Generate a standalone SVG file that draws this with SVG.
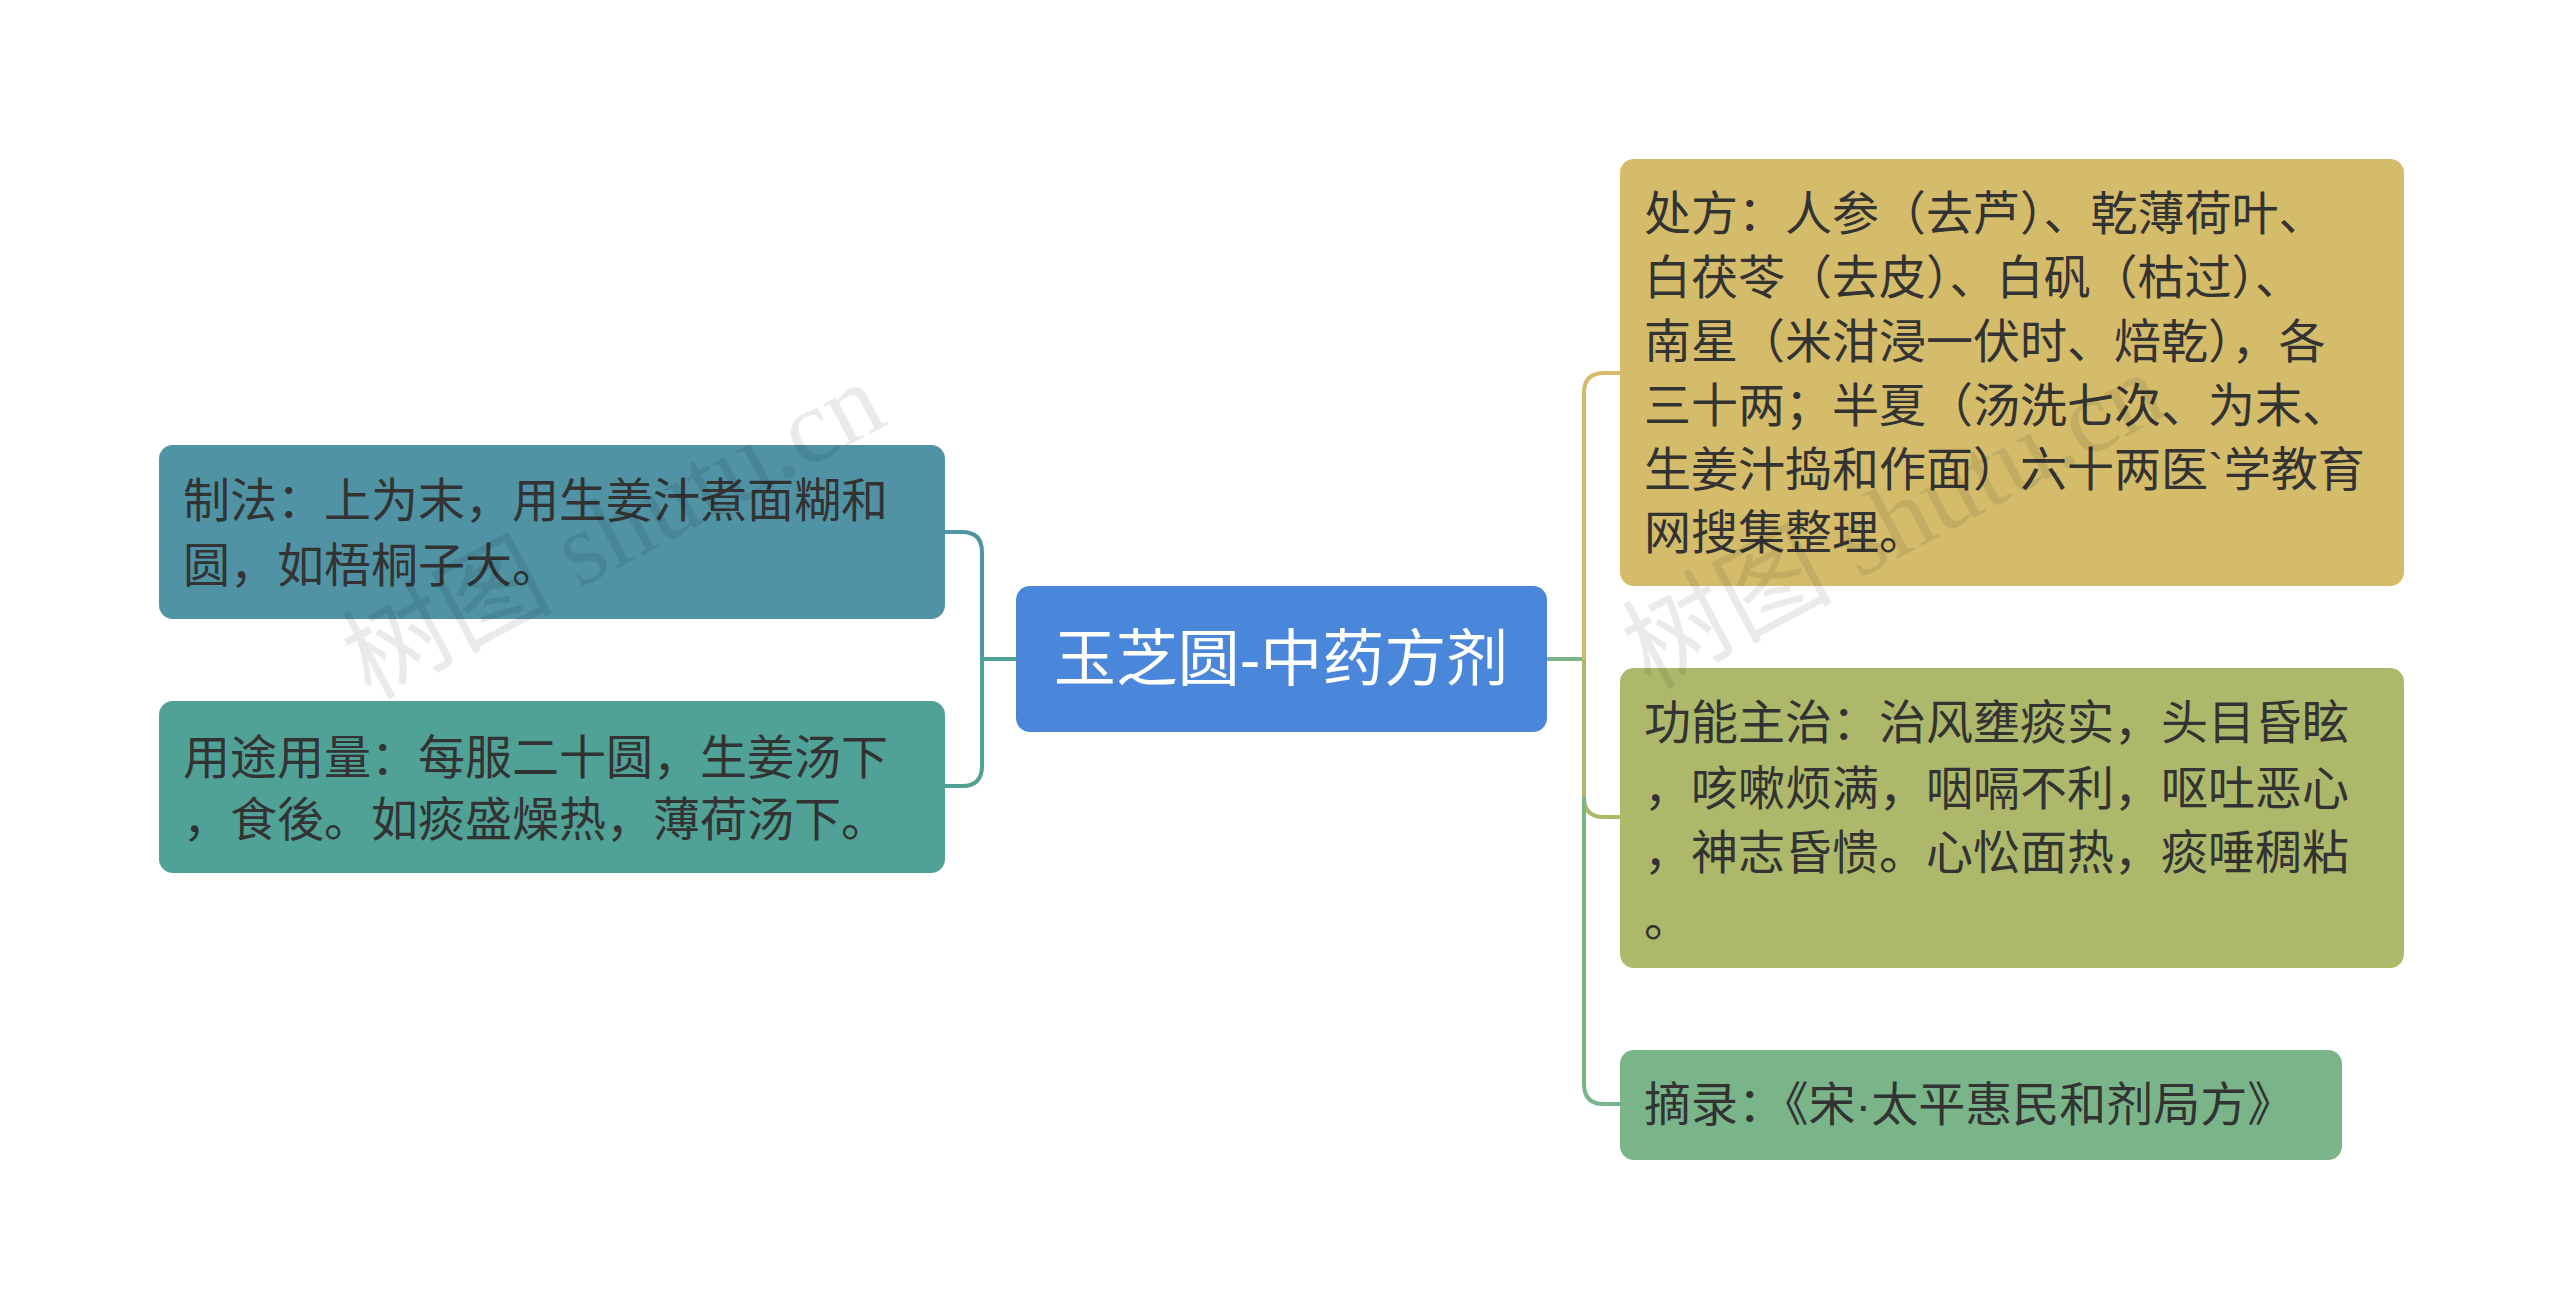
<svg xmlns="http://www.w3.org/2000/svg" width="2560" height="1314" viewBox="0 0 2560 1314">
<style>
.t{font-family:"Liberation Sans","Noto Sans CJK SC",sans-serif;font-size:47px;fill:#333}
.c{font-family:"Liberation Sans","Noto Sans CJK SC",sans-serif;font-size:62px;fill:#fff}
.w{font-family:"Liberation Serif","Noto Sans CJK SC",serif;font-size:105px;fill:#000;opacity:0.08}
.e{fill:none;stroke-width:4}
</style>
<rect width="2560" height="1314" fill="#fff"/>
<g id="connectors">
<path class="e" stroke="#4f93a5" d="M1016 659 H982 V552 Q982 532 962 532 H945"/>
<path class="e" stroke="#4fa295" d="M1016 659 H982 V766 Q982 786 962 786 H945"/>
<path class="e" stroke="#7ab58a" d="M1547 659 H1584"/>
<path class="e" stroke="#d4bc6a" d="M1584 659 V393 Q1584 373 1604 373 H1620"/>
<path class="e" stroke="#adb86a" d="M1584 659 V797 Q1584 817 1604 817 H1620"/>
<path class="e" stroke="#7ab58a" d="M1584 797 V1084 Q1584 1104 1604 1104 H1620"/>
</g>
<g id="center"><rect x="1016" y="586" width="531" height="146" rx="14" fill="#4a86d9"/><text class="c" x="1281" y="681" text-anchor="middle">玉芝圆-中药方剂</text></g>
<g id="l1"><rect x="159" y="445" width="786" height="174" rx="14" fill="#4f93a5"/><text class="t" x="183" y="517">制法：上为末，用生姜汁煮面糊和</text><text class="t" x="183" y="582">圆，如梧桐子大。</text></g>
<g id="l2"><rect x="159" y="701" width="786" height="172" rx="14" fill="#4fa295"/><text class="t" x="183" y="774">用途用量：每服二十圆，生姜汤下</text><text class="t" x="183" y="836">，食後。如痰盛燥热，薄荷汤下。</text></g>
<g id="r1"><rect x="1620" y="159" width="784" height="427" rx="14" fill="#d4bc6a"/>
<text class="t" x="1644" y="230">处方：人参（去芦）、乾薄荷叶、</text>
<text class="t" x="1644" y="294">白茯苓（去皮）、白矾（枯过）、</text>
<text class="t" x="1644" y="358">南星（米泔浸一伏时、焙乾），各</text>
<text class="t" x="1644" y="422">三十两；半夏（汤洗七次、为末、</text>
<text class="t" x="1644" y="486">生姜汁捣和作面）六十两医`学教育</text>
<text class="t" x="1644" y="549">网搜集整理。</text></g>
<g id="r2"><rect x="1620" y="668" width="784" height="300" rx="14" fill="#adb86a"/>
<text class="t" x="1644" y="739">功能主治：治风壅痰实，头目昏眩</text>
<text class="t" x="1644" y="805">，咳嗽烦满，咽嗝不利，呕吐恶心</text>
<text class="t" x="1644" y="869">，神志昏愦。心忪面热，痰唾稠粘</text>
<text class="t" x="1644" y="936">。</text></g>
<g id="r3"><rect x="1620" y="1050" width="722" height="110" rx="14" fill="#7ab58a"/><text class="t" x="1644" y="1121">摘录：《宋·太平惠民和剂局方》</text></g>
<text class="w" transform="translate(370 700) rotate(-28)">树图 shutu.cn</text>
<text class="w" transform="translate(1650 690) rotate(-28)">树图 shutu.cn</text>
</svg>
